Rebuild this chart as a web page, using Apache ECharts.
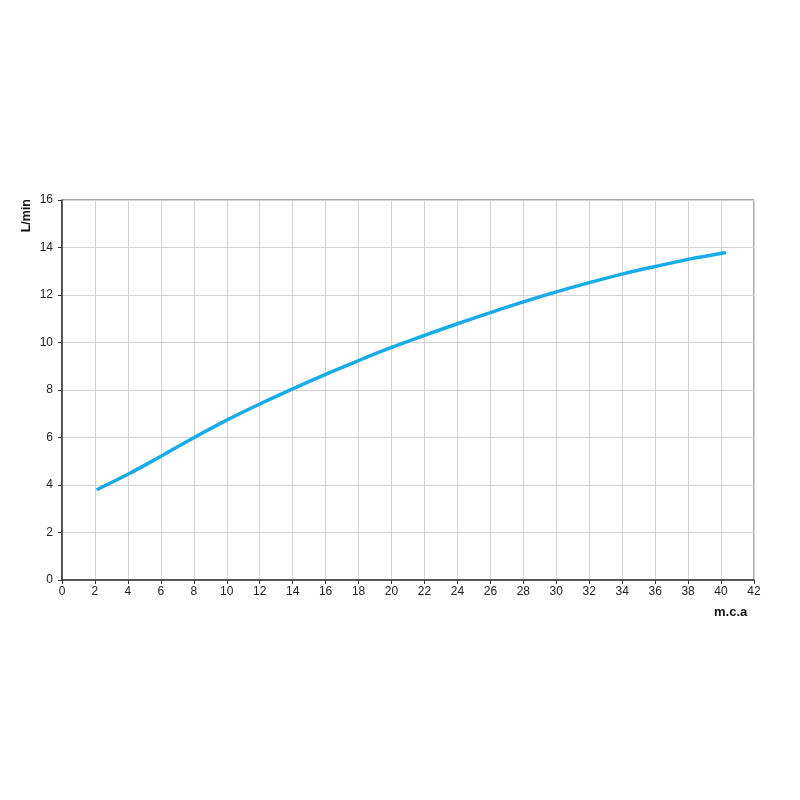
<!DOCTYPE html>
<html><head><meta charset="utf-8">
<script src="https://cdn.jsdelivr.net/npm/echarts@6/dist/echarts.min.js"></script>
<style>html,body{margin:0;padding:0;background:#fff}#c{width:800px;height:800px}</style>
</head><body><div id="c"></div>
<script>
const xValues = [2.1, 4, 6, 8, 10, 12, 14, 16, 18, 20, 22, 24, 26, 28, 30, 32, 34, 36, 38, 40.3];
const yValues = [3.8, 4.45, 5.21, 5.99, 6.73, 7.41, 8.05, 8.66, 9.24, 9.79, 10.3, 10.79, 11.26, 11.71, 12.13, 12.52, 12.88, 13.2, 13.5, 13.79];
const xAxisName = 'm.c.a';
const yAxisName = 'L/min';

const chart = echarts.init(document.getElementById('c'), null, {renderer: 'canvas'});
const font = 'Liberation Sans, Arial, sans-serif';
chart.setOption({
  animation: false,
  backgroundColor: '#fff',
  grid: {left: 62, right: 46, top: 200, bottom: 220, show: true, borderColor: '#555', borderWidth: 1},
  xAxis: {
    type: 'value', min: 0, max: 42, interval: 2,
    axisLine: {show: true, lineStyle: {color: '#333', width: 1.5}},
    axisTick: {show: true, length: 4, lineStyle: {color: '#333'}},
    axisLabel: {color: '#222', fontSize: 12, fontFamily: font, margin: 6},
    splitLine: {show: true, lineStyle: {color: '#d4d4d4', width: 1}}
  },
  yAxis: {
    type: 'value', min: 0, max: 16, interval: 2,
    axisLine: {show: true, lineStyle: {color: '#333', width: 1.5}},
    axisTick: {show: true, length: 4, lineStyle: {color: '#333'}},
    axisLabel: {color: '#222', fontSize: 12, fontFamily: font, margin: 9},
    splitLine: {show: true, lineStyle: {color: '#d4d4d4', width: 1}}
  },
  graphic: [
    {type: 'text', left: 20, top: 199, rotation: Math.PI / 2,
     style: {text: yAxisName, fontSize: 12.5, fontWeight: 'bold', fontFamily: font, fill: '#111'}},
    {type: 'text', left: 714, top: 606,
     style: {text: xAxisName, fontSize: 13, fontWeight: 'bold', fontFamily: font, fill: '#111'}}
  ],
  series: [{
    type: 'line', smooth: 0.4, symbol: 'none',
    lineStyle: {color: '#17ACE8', width: 3.5},
    data: xValues.map((x, i) => [x, yValues[i]])
  }]
});
</script></body></html>
